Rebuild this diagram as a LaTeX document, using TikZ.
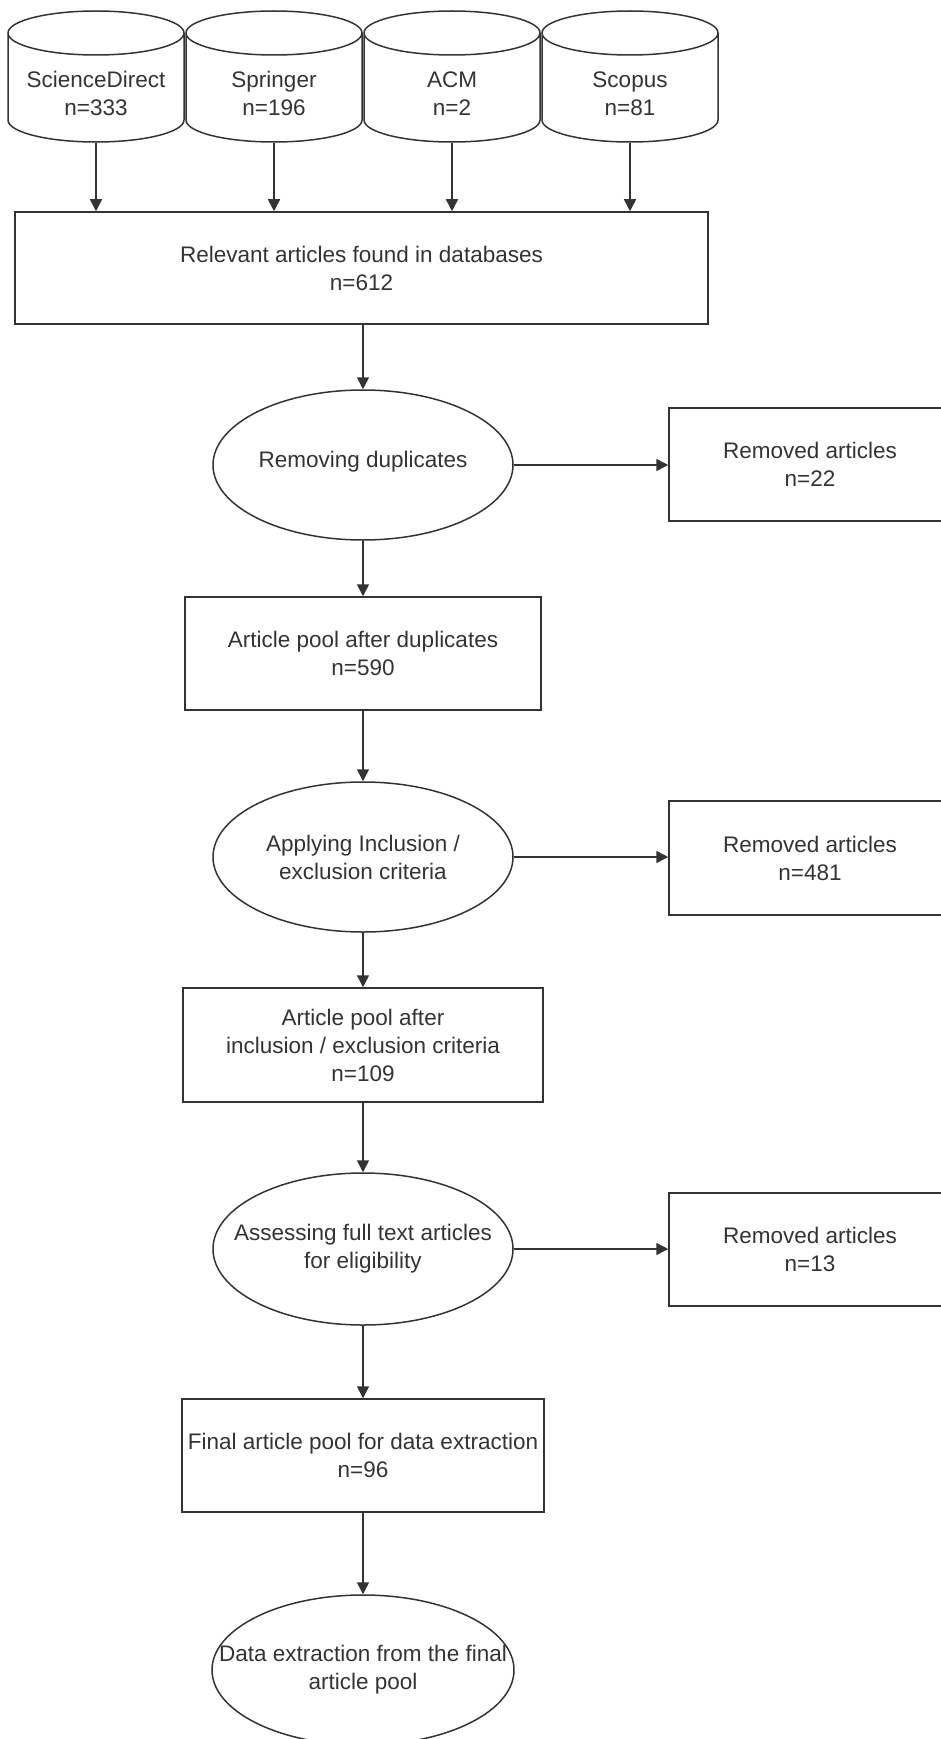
\documentclass[tikz,border=0pt]{standalone}
\usepackage{fontspec}
\setmainfont{Liberation Sans}
\usetikzlibrary{calc,positioning,arrows.meta,shapes.geometric,fit}
\makeatletter
\tikzset{
  fitting node/.style={
    inner sep=0pt,
    fill=none,
    draw=none,
    reset transform,
    fit={(\pgf@pathminx,\pgf@pathminy) (\pgf@pathmaxx,\pgf@pathmaxy)}
  },
  reset transform/.code={\pgftransformreset},
  box label/.style={align=center,inner sep=0pt,font=\fontsize{22.5pt}{28pt}\selectfont},
  flow arrow/.style={-{Triangle[width=12pt,length=12pt]}}
}
\makeatother

\begin{document}
\begin{tikzpicture}[x=1pt,y=-1pt,line width=1.5pt,color=black!80]
  \clip (0,0) rectangle (941,1739);

  % databases
  \draw (8,33) -- (8,120) arc[start angle=180,end angle=360,x radius=88pt,y radius=22pt] -- (184,33)
    (96,33) ellipse[x radius=88pt,y radius=22pt] node[fitting node] (sciencedirect) {};
  \node (sciencedirect_label) [box label] at ([yshift=-17pt]sciencedirect) {ScienceDirect\\n=333};
  \draw (186,33) -- (186,120) arc[start angle=180,end angle=360,x radius=88pt,y radius=22pt] -- (362,33)
    (274,33) ellipse[x radius=88pt,y radius=22pt] node[fitting node] (springer) {};
  \node (springer_label) [box label] at ([yshift=-17pt]springer) {Springer\\n=196};
  \draw (364,33) -- (364,120) arc[start angle=180,end angle=360,x radius=88pt,y radius=22pt] -- (540,33)
    (452,33) ellipse[x radius=88pt,y radius=22pt] node[fitting node] (acm) {};
  \node (acm_label) [box label] at ([yshift=-17pt]acm) {ACM\\n=2};
  \draw (542,33) -- (542,120) arc[start angle=180,end angle=360,x radius=88pt,y radius=22pt] -- (718,33)
    (630,33) ellipse[x radius=88pt,y radius=22pt] node[fitting node] (scopus) {};
  \node (scopus_label) [box label] at ([yshift=-17pt]scopus) {Scopus\\n=81};

  \draw (15,212) rectangle (708,324) node[fitting node] (relevant) {};
  \node (relevant_label) [box label] at (relevant) {Relevant articles found in databases\\n=612};

  \draw[flow arrow] (sciencedirect.south) -- (sciencedirect.south |- relevant.north);
  \draw[flow arrow] (springer.south) -- (springer.south |- relevant.north);
  \draw[flow arrow] (acm.south) -- (acm.south |- relevant.north);
  \draw[flow arrow] (scopus.south) -- (scopus.south |- relevant.north);

  % duplicates
  \draw (363,465) ellipse[x radius=150pt,y radius=75pt] node[fitting node] (duplicates) {};
  \node (duplicates_label) [box label] at ([yshift=3pt]duplicates) {Removing duplicates};
  \draw (669,408) rectangle (951,521) node[fitting node] (removed_dup) {};
  \node (removed_dup_label) [box label] at (removed_dup) {Removed articles\\n=22};
  \draw (185,597) rectangle (541,710) node[fitting node] (pool_dup) {};
  \node (pool_dup_label) [box label] at (pool_dup) {Article pool after duplicates\\n=590};

  \draw[flow arrow] (relevant.south -| duplicates.north) -- (duplicates.north);
  \draw[flow arrow] (duplicates.east) -- (removed_dup.west |- duplicates.east);
  \draw[flow arrow] (duplicates.south) -- (pool_dup.north);

  % inclusion / exclusion
  \draw (363,857) ellipse[x radius=150pt,y radius=75pt] node[fitting node] (criteria) {};
  \node (criteria_label) [box label] at (criteria) {Applying Inclusion /\\exclusion criteria};
  \draw (183,988) rectangle (543,1102) node[fitting node] (pool_crit) {};
  \draw (669,801) rectangle (951,915) node[fitting node] (removed_crit) {};
  \node (removed_crit_label) [box label] at (removed_crit) {Removed articles\\n=481};
  \node (pool_crit_label) [box label] at (pool_crit) {Article pool after\\inclusion / exclusion criteria\\n=109};

  \draw[flow arrow] (pool_dup.south) -- (criteria.north);
  \draw[flow arrow] (criteria.east) -- (removed_crit.west |- criteria.east);
  \draw[flow arrow] (criteria.south) -- (pool_crit.north);

  % eligibility
  \draw (363,1249) ellipse[x radius=150pt,y radius=76pt] node[fitting node] (eligibility) {};
  \node (eligibility_label) [box label] at (eligibility) {Assessing full text articles\\for eligibility};
  \draw (669,1193) rectangle (951,1306) node[fitting node] (removed_elig) {};
  \node (removed_elig_label) [box label] at (removed_elig) {Removed articles\\n=13};
  \draw (182,1399) rectangle (544,1512) node[fitting node] (final_pool) {};
  \node (final_pool_label) [box label] at (final_pool) {Final article pool for data extraction\\n=96};

  \draw[flow arrow] (pool_crit.south) -- (eligibility.north);
  \draw[flow arrow] (eligibility.east) -- (removed_elig.west |- eligibility.east);
  \draw[flow arrow] (eligibility.south) -- (final_pool.north);

  % extraction
  \draw (363,1670) ellipse[x radius=151pt,y radius=75pt] node[fitting node] (extraction) {};
  \node (extraction_label) [box label] at (extraction) {Data extraction from the final\\article pool};

  \draw[flow arrow] (final_pool.south) -- (extraction.north);
\end{tikzpicture}
\end{document}
